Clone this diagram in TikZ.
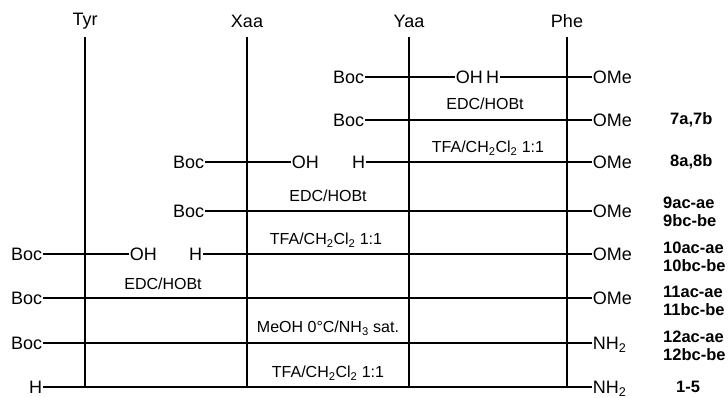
\documentclass[tikz,border=0pt]{standalone}
\usepackage{fontspec}
\setmainfont{Liberation Sans}
\begin{document}
\begin{tikzpicture}[x=1pt,y=-1pt,
  lbl/.style={inner sep=0.6pt, font=\fontsize{18}{18}\selectfont, text height=12.9pt, text depth=0pt},
  head/.style={inner sep=0pt, font=\fontsize{18}{18}\selectfont},
  cond/.style={inner sep=0pt, font=\fontsize{16}{16}\selectfont, text height=11.5pt, text depth=0pt},
  cmpd/.style={inner sep=0pt, font=\fontsize{16.5}{17.5}\bfseries\selectfont, align=left, anchor=west},
  bond/.style={line width=1.9pt},
]
\useasboundingbox (0,0) rectangle (728,398);

% headers and vertical lines
\node[head] (tyr) at (85,21) {Tyr};
\node[head] (xaa) at (247,21) {Xaa};
\node[head] (yaa) at (409,21) {Yaa};
\node[head] (phe) at (567,21) {Phe};
\coordinate (tyrT) at (85,37);  \coordinate (tyrB) at (85,387);
\coordinate (xaaT) at (247,37); \coordinate (xaaB) at (247,387);
\coordinate (yaaT) at (409,37); \coordinate (yaaB) at (409,387);
\coordinate (pheT) at (567,37); \coordinate (pheB) at (567,387);
\draw[bond] (tyrT) -- (tyrB);
\draw[bond] (xaaT) -- (xaaB);
\draw[bond] (yaaT) -- (yaaB);
\draw[bond] (pheT) -- (pheB);

% row 1
\node[lbl,anchor=east] (b1) at (365,77) {Boc};
\node[lbl,anchor=west] (oh1) at (455,77) {OH};
\node[lbl,anchor=east] (h1) at (500,77) {H};
\node[lbl,anchor=west] (ome1) at (592,77) {OMe};
\draw[bond] (b1.east) -- (oh1.west);
\draw[bond] (h1.east) -- (ome1.west);

% row 2
\node[cond] (c1) at (485,104) {EDC/HOBt};
\node[lbl,anchor=east] (b2) at (365,120) {Boc};
\node[lbl,anchor=west] (ome2) at (592,120) {OMe};
\draw[bond] (b2.east) -- (ome2.west);
\node[cmpd] (k2) at (670,120) {7a,7b};

% row 3
\node[cond] (c2) at (488,147) {TFA/CH\textsubscript{2}Cl\textsubscript{2} 1:1};
\node[lbl,anchor=east] (b3) at (205,162) {Boc};
\node[lbl,anchor=west] (oh3) at (291,162) {OH};
\node[lbl,anchor=east] (h3) at (366,162) {H};
\node[lbl,anchor=west] (ome3) at (592,162) {OMe};
\draw[bond] (b3.east) -- (oh3.west);
\draw[bond] (h3.east) -- (ome3.west);
\node[cmpd] (k3) at (670,162) {8a,8b};

% row 4
\node[cond] (c3) at (328,196) {EDC/HOBt};
\node[lbl,anchor=east] (b4) at (205,211) {Boc};
\node[lbl,anchor=west] (ome4) at (592,211) {OMe};
\draw[bond] (b4.east) -- (ome4.west);
\node[cmpd] (k4) at (663,212) {9ac-ae\\9bc-be};

% row 5
\node[cond] (c4) at (326,239) {TFA/CH\textsubscript{2}Cl\textsubscript{2} 1:1};
\node[lbl,anchor=east] (b5) at (43,254) {Boc};
\node[lbl,anchor=west] (oh5) at (129,254) {OH};
\node[lbl,anchor=east] (h5) at (203,254) {H};
\node[lbl,anchor=west] (ome5) at (592,254) {OMe};
\draw[bond] (b5.east) -- (oh5.west);
\draw[bond] (h5.east) -- (ome5.west);
\node[cmpd] (k5) at (663,257) {10ac-ae\\10bc-be};

% row 6
\node[cond] (c5) at (163,284) {EDC/HOBt};
\node[lbl,anchor=east] (b6) at (43,298) {Boc};
\node[lbl,anchor=west] (ome6) at (592,298) {OMe};
\draw[bond] (b6.east) -- (ome6.west);
\node[cmpd] (k6) at (663,301) {11ac-ae\\11bc-be};

% row 7
\node[cond] (c6) at (328,327) {MeOH 0°C/NH\textsubscript{3} sat.};
\node[lbl,anchor=east] (b7) at (43,343) {Boc};
\node[lbl,anchor=west] (nh7) at (592,343) {NH\textsubscript{2}};
\draw[bond] (b7.east) -- (nh7.west);
\node[cmpd] (k7) at (663,346) {12ac-ae\\12bc-be};

% row 8
\node[cond] (c7) at (328,372) {TFA/CH\textsubscript{2}Cl\textsubscript{2} 1:1};
\node[lbl,anchor=east] (h8) at (43,387) {H};
\node[lbl,anchor=west] (nh8) at (592,387) {NH\textsubscript{2}};
\draw[bond] (h8.east) -- (nh8.west);
\node[cmpd,anchor=center] (k8) at (688,387) {1-5};

\end{tikzpicture}
\end{document}
